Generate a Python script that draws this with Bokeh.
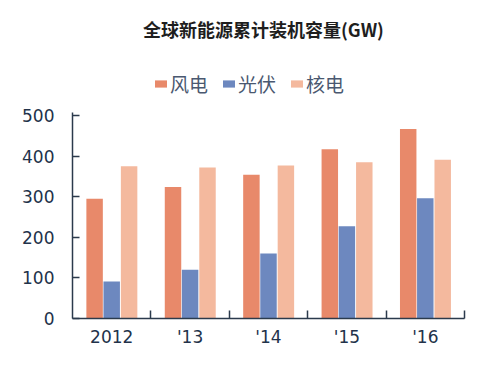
import numpy as np
from bokeh.plotting import figure
from bokeh.models import (ColumnDataSource, Range1d, FixedTicker, Legend, LegendItem,
                          Label)
from bokeh.transform import dodge
from bokeh.embed import file_html
from bokeh.resources import INLINE

title_text = "全球新能源累计装机容量(GW)"
years = ["2012", "'13", "'14", "'15", "'16"]
series_names = ["风电", "光伏", "核电"]
wind = [295, 324, 354, 417, 467]
solar = [91, 120, 160, 227, 296]
nuclear = [375, 372, 377, 385, 391]
colors = ["#E8896A", "#6D88BF", "#F4B99E"]

n = len(years)
xc = np.arange(n) + 0.5
src = ColumnDataSource(dict(x=xc, wind=wind, solar=solar, nuclear=nuclear))

# frame spans page y 5..318 ; value 500 sits at y=115
y_top = 500 * 313 / 203

p = figure(width=482, height=349, output_backend="svg", toolbar_location=None,
           x_range=Range1d(0, n), y_range=Range1d(0, y_top),
           min_border_left=72, min_border_right=18, min_border_top=5,
           min_border_bottom=31)
p.outline_line_color = None
p.xgrid.visible = False
p.ygrid.visible = False
p.background_fill_color = "white"
p.border_fill_color = "white"

bw = 0.21
r1 = p.vbar(x=dodge("x", -0.218, range=p.x_range), top="wind", width=bw, bottom=0,
            source=src, fill_color=colors[0], line_color=None)
r2 = p.vbar(x=dodge("x", 0.0, range=p.x_range), top="solar", width=bw, bottom=0,
            source=src, fill_color=colors[1], line_color=None)
r3 = p.vbar(x=dodge("x", 0.222, range=p.x_range), top="nuclear", width=bw, bottom=0,
            source=src, fill_color=colors[2], line_color=None)

axis_color = "#2B3A4C"
text_color = "#22324A"

xa = p.xaxis[0]
xa.ticker = FixedTicker(ticks=list(xc), minor_ticks=list(np.arange(1, n + 1)))
xa.major_label_overrides = {float(v): lab for v, lab in zip(xc, years)}
xa.major_tick_in = 0
xa.major_tick_out = 0
xa.minor_tick_in = 8
xa.minor_tick_out = 0
xa.minor_tick_line_color = axis_color
xa.minor_tick_line_width = 1.5
xa.axis_line_color = axis_color
xa.axis_line_width = 1.5
xa.major_label_text_font = "DejaVu Sans"
xa.major_label_text_font_size = "17px"
xa.major_label_text_color = text_color
xa.major_label_standoff = 8

ya = p.yaxis[0]
ya.ticker = FixedTicker(ticks=[0, 100, 200, 300, 400, 500])
ya.bounds = (0, 507)
ya.major_tick_in = 7
ya.major_tick_out = 0
ya.major_tick_line_color = axis_color
ya.major_tick_line_width = 1.5
ya.minor_tick_line_color = None
ya.axis_line_color = axis_color
ya.axis_line_width = 1.5
ya.major_label_text_font = "DejaVu Sans"
ya.major_label_text_font_size = "17px"
ya.major_label_text_color = text_color
ya.major_label_standoff = 18

title = Label(x=2.436, y=714, text=title_text, text_align="center",
              text_baseline="middle", text_font="Noto Sans CJK SC",
              text_font_style="bold", text_font_size="18px", text_color="#1E1E1E")
p.add_layout(title)

legend = Legend(items=[LegendItem(label=series_names[0], renderers=[r1]),
                       LegendItem(label=series_names[1], renderers=[r2]),
                       LegendItem(label=series_names[2], renderers=[r3])],
                orientation="horizontal", location=(81, 221),
                glyph_width=15, glyph_height=9, label_standoff=2, spacing=13,
                padding=0, margin=0, border_line_color=None,
                background_fill_alpha=0,
                label_text_font="Noto Sans CJK SC", label_text_font_size="19px",
                label_text_color="#4A5870", label_height=22)
p.add_layout(legend, "center")

open("out.html", "w").write(file_html(p, INLINE))
